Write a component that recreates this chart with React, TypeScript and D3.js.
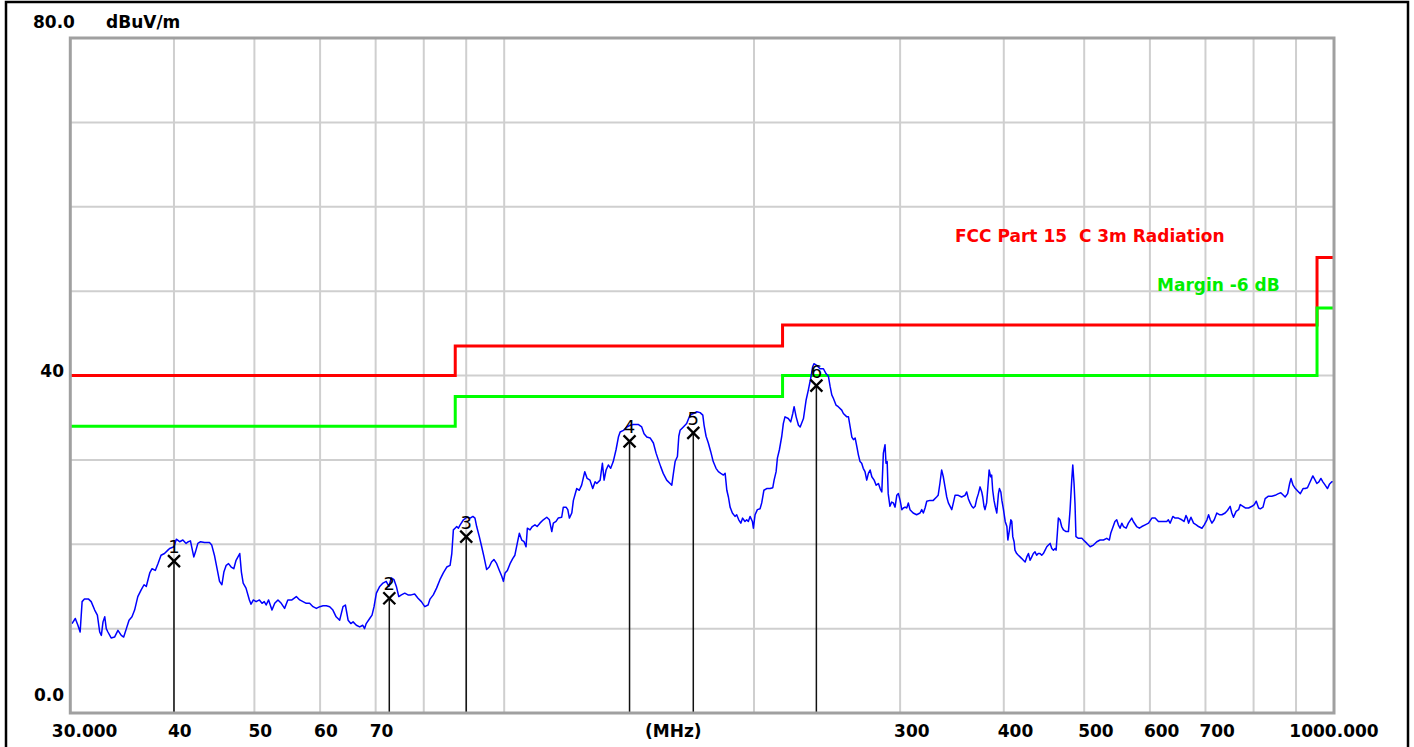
import React from 'react';
import * as d3 from 'd3';

// ---- Data ----
const traceFreq = [
  30.14, 30.42, 30.64, 30.83, 31.0, 31.2, 31.56, 31.79, 32.1, 32.34, 32.55, 32.7, 32.85, 33.01, 33.15, 33.3, 33.6, 33.92, 34.24, 34.56,
  34.79, 35.05, 35.31, 35.6, 35.86, 36.18, 36.52, 36.81, 37.04, 37.4, 37.64, 37.98, 38.26, 38.59, 38.96, 39.33, 39.52, 40.0, 40.26, 40.63,
  41.0, 41.37, 41.63, 41.87, 42.26, 42.46, 42.74, 43.06, 43.54, 44.14, 44.42, 44.75, 45.08, 45.39, 45.69, 45.94, 46.24, 46.54, 46.88, 47.22,
  47.52, 48.01, 48.23, 48.47, 48.85, 49.31, 49.54, 49.86, 50.24, 50.7, 51.07, 51.39, 51.66, 52.01, 52.5, 52.9, 53.38, 53.87, 54.37, 54.86,
  55.49, 56.17, 56.7, 57.22, 57.74, 58.28, 58.83, 59.38, 59.95, 60.5, 61.05, 61.62, 62.17, 62.73, 63.35, 63.94, 64.36, 64.85, 65.34, 65.75,
  66.35, 66.97, 67.55, 67.88, 68.19, 68.85, 69.3, 69.69, 70.14, 70.8, 71.44, 72.08, 72.62, 73.1, 73.66, 74.14, 74.64, 75.18, 75.89, 76.57,
  77.26, 78.0, 78.73, 79.47, 80.22, 80.96, 81.4, 82.14, 82.89, 83.67, 84.46, 85.27, 86.06, 86.47, 86.85, 87.26, 87.66, 88.07, 88.5, 89.32,
  90.18, 91.0, 91.68, 92.21, 92.65, 93.33, 93.95, 94.55, 95.25, 95.93, 96.55, 97.19, 97.94, 98.67, 99.33, 99.78, 100.25, 100.89, 101.64, 102.39,
  103.01, 103.69, 104.29, 104.99, 105.67, 106.25, 106.64, 107.43, 108.11, 108.91, 109.57, 110.42, 111.47, 112.54, 113.36, 114.12, 114.62, 115.47, 116.16, 117.3,
  117.83, 118.73, 119.3, 119.83, 120.63, 121.17, 122.3, 123.17, 123.97, 125.06, 125.89, 126.87, 127.85, 128.69, 129.3, 130.5, 131.33, 131.95, 132.68, 133.51,
  134.38, 135.34, 136.39, 137.29, 137.95, 139.23, 140.55, 141.83, 143.12, 145.04, 146.46, 147.42, 148.54, 149.92, 151.29, 152.42, 153.38, 154.38, 155.47, 156.98,
  158.46, 159.21, 159.93, 160.69, 161.72, 162.34, 162.92, 164.4, 165.91, 167.44, 169.02, 170.67, 172.23, 173.52, 174.14, 175.1, 176.2, 177.35, 178.61, 180.0,
  181.18, 182.4, 183.74, 184.61, 185.48, 186.3, 187.18, 188.36, 189.74, 190.62, 191.72, 192.82, 193.78, 195.06, 196.0, 196.88, 197.83, 199.11, 199.67, 200.61,
  201.89, 203.39, 204.34, 205.58, 207.18, 209.13, 210.71, 211.48, 212.66, 213.43, 214.61, 216.02, 216.96, 217.97, 219.95, 221.46, 222.73, 223.55, 224.82, 226.27,
  227.34, 229.43, 231.13, 232.58, 234.1, 235.32, 236.19, 238.02, 240.26, 242.5, 244.33, 245.88, 247.04, 248.19, 249.27, 251.1, 252.68, 255.14, 256.31, 258.77,
  259.94, 261.17, 262.4, 263.57, 264.8, 266.03, 267.2, 268.43, 269.66, 270.83, 272.15, 273.47, 274.72, 276.04, 277.36, 279.15, 280.71, 282.5, 283.82, 285.14,
  286.38, 287.71, 288.49, 289.41, 290.25, 291.66, 293.07, 294.42, 295.83, 297.25, 298.58, 300.0, 301.42, 302.75, 304.17, 305.59, 306.92, 308.34, 311.05, 314.07,
  317.03, 318.55, 319.98, 321.5, 323.02, 325.97, 328.92, 331.96, 333.4, 335.02, 336.64, 338.19, 339.81, 341.44, 342.97, 346.23, 347.76, 349.39, 352.55, 355.81,
  359.13, 360.87, 362.53, 364.27, 366.01, 367.65, 369.4, 371.15, 372.79, 374.53, 376.28, 377.31, 378.64, 379.67, 381.41, 383.0, 384.08, 385.64, 386.76, 387.88,
  389.32, 390.76, 392.32, 394.12, 395.2, 396.76, 397.89, 399.67, 401.56, 403.45, 404.56, 406.34, 407.9, 409.0, 410.1, 411.6, 412.6, 414.6, 416.5, 418.5,
  420.5, 422.4, 424.4, 426.4, 428.3, 430.3, 432.3, 434.2, 436.2, 438.2, 440.1, 442.3, 444.4, 446.4, 448.6, 450.7, 452.8, 454.9, 457.0, 459.1,
  461.2, 462.5, 464.1, 465.4, 467.5, 469.7, 472.0, 475.5, 478.6, 480.8, 483.0, 484.4, 486.1, 487.4, 488.7, 492.1, 496.8, 499.0, 503.8, 508.3,
  513.0, 517.8, 522.6, 527.4, 532.3, 536.1, 538.2, 540.9, 544.5, 547.2, 549.7, 552.3, 555.0, 557.5, 561.7, 565.2, 570.5, 573.0, 578.3, 582.7,
  586.7, 592.2, 597.7, 603.3, 608.8, 614.3, 622.6, 628.7, 631.5, 634.6, 639.4, 643.5, 649.4, 655.5, 659.6, 663.2, 665.5, 667.9, 672.4, 677.3,
  682.4, 686.7, 693.2, 697.7, 702.9, 706.1, 709.4, 712.7, 717.3, 722.4, 727.7, 732.6, 739.3, 744.0, 749.6, 753.1, 756.6, 762.1, 767.4, 771.0,
  776.8, 781.8, 789.0, 796.5, 801.6, 806.0, 811.2, 815.0, 821.2, 826.1, 833.7, 841.5, 849.3, 857.1, 862.8, 869.0, 873.2, 879.3, 884.2, 887.6,
  892.6, 898.3, 906.5, 910.8, 917.7, 923.1, 929.0, 936.0, 943.0, 949.0, 953.5, 958.9, 964.3, 969.6, 975.8, 982.0, 987.3, 993.9, 1000.0,
];

const traceLevel = [
  10.6, 11.2, 10.4, 9.6, 13.2, 13.5, 13.5, 13.2, 12.2, 11.6, 9.6, 9.2, 10.8, 11.4, 10.0, 9.6, 8.9, 9.0, 9.8, 9.2,
  9.0, 10.0, 11.0, 11.4, 12.2, 13.8, 14.6, 15.2, 15.0, 16.6, 17.1, 16.9, 17.7, 18.7, 18.9, 19.3, 19.5, 19.7, 20.6, 20.3,
  20.5, 20.1, 20.3, 20.4, 18.5, 19.1, 20.1, 20.3, 20.2, 20.2, 19.9, 18.7, 17.1, 15.6, 15.2, 16.7, 17.5, 17.7, 17.3, 17.1,
  18.1, 18.9, 16.7, 15.4, 14.8, 13.4, 12.9, 13.4, 13.2, 13.4, 13.0, 13.2, 12.8, 13.4, 12.2, 13.0, 13.4, 13.0, 12.4, 13.4,
  13.4, 13.8, 13.4, 13.2, 13.0, 13.0, 12.6, 12.4, 12.6, 12.7, 12.7, 12.6, 12.2, 11.4, 11.0, 12.6, 12.8, 11.0, 10.6, 10.8,
  10.4, 10.2, 10.4, 10.0, 10.6, 11.2, 11.6, 12.6, 14.2, 15.0, 15.4, 15.6, 15.0, 16.0, 15.8, 15.0, 13.8, 14.0, 14.2, 14.0,
  14.0, 14.1, 13.6, 13.2, 12.6, 12.8, 13.5, 14.0, 14.8, 15.8, 16.6, 17.3, 17.5, 18.9, 21.7, 21.9, 22.1, 21.9, 22.3, 22.9,
  23.2, 23.1, 23.3, 23.1, 22.1, 20.9, 19.7, 18.5, 17.0, 17.3, 17.9, 18.2, 17.7, 16.9, 16.2, 15.6, 16.6, 16.9, 17.7, 18.3,
  18.7, 20.1, 21.3, 20.5, 20.3, 19.7, 21.9, 21.7, 22.1, 22.3, 22.1, 22.5, 22.9, 23.2, 22.9, 21.5, 22.5, 22.7, 23.1, 23.2,
  24.4, 24.4, 24.1, 23.1, 23.7, 25.2, 26.6, 26.4, 27.0, 28.6, 27.8, 27.6, 26.6, 27.4, 27.2, 27.6, 29.6, 27.6, 28.8, 29.4,
  29.0, 29.8, 31.2, 32.7, 33.3, 33.5, 33.9, 34.1, 34.2, 34.2, 33.9, 33.1, 32.7, 32.6, 32.0, 30.8, 30.0, 29.2, 28.4, 27.6,
  27.2, 27.0, 28.4, 29.8, 30.4, 32.8, 33.5, 33.9, 34.3, 35.3, 35.5, 35.7, 35.6, 35.3, 34.1, 32.8, 32.0, 31.0, 29.8, 29.0,
  28.6, 28.4, 28.2, 28.4, 26.4, 25.6, 24.4, 23.7, 23.3, 23.5, 22.9, 22.5, 23.1, 22.7, 22.9, 22.7, 23.3, 22.7, 21.9, 23.5,
  24.1, 24.2, 24.9, 26.4, 26.6, 26.6, 26.7, 27.6, 28.6, 30.2, 31.2, 32.8, 34.3, 35.1, 34.9, 34.5, 35.5, 36.3, 35.1, 34.1,
  33.9, 34.9, 37.1, 38.3, 39.7, 41.0, 41.4, 41.2, 40.8, 40.8, 40.2, 39.9, 38.7, 37.7, 37.3, 36.5, 36.3, 35.9, 35.5, 35.1,
  35.1, 33.9, 32.7, 32.4, 32.6, 31.6, 30.6, 29.8, 29.6, 29.0, 28.6, 27.6, 28.4, 28.8, 28.0, 27.6, 27.0, 27.2, 26.6, 26.2,
  30.8, 31.8, 29.6, 29.8, 26.0, 24.5, 25.0, 24.9, 24.4, 25.8, 26.0, 25.2, 24.1, 24.3, 24.4, 24.3, 24.9, 24.1, 23.7, 23.5,
  23.7, 24.1, 23.7, 24.3, 25.1, 25.2, 25.2, 25.6, 25.8, 27.2, 28.8, 28.0, 26.8, 25.6, 24.9, 24.1, 24.9, 25.8, 25.8, 25.6,
  25.8, 26.2, 25.4, 24.9, 24.5, 24.3, 24.5, 25.4, 26.0, 26.8, 26.2, 25.6, 24.5, 24.1, 24.9, 27.2, 28.8, 28.0, 28.2, 26.4,
  25.2, 24.4, 23.7, 26.0, 26.6, 26.2, 25.2, 24.1, 22.7, 22.1, 20.5, 21.7, 22.9, 22.7, 20.9, 20.3, 19.3, 18.9, 18.7, 18.5,
  18.3, 18.1, 17.9, 18.5, 18.9, 18.1, 18.5, 18.9, 19.1, 18.7, 18.9, 18.9, 18.7, 18.9, 19.3, 19.7, 19.9, 20.1, 19.5, 19.3,
  19.5, 19.3, 21.3, 23.1, 22.9, 22.1, 21.7, 21.5, 21.5, 24.1, 27.6, 29.4, 27.2, 24.8, 20.9, 20.7, 20.7, 20.5, 20.1, 19.7,
  19.9, 20.3, 20.5, 20.5, 20.7, 20.5, 21.3, 21.9, 22.7, 22.9, 22.3, 21.9, 22.5, 22.1, 21.9, 22.5, 23.1, 22.7, 22.1, 21.9,
  22.1, 22.3, 22.5, 23.1, 23.1, 22.7, 22.7, 22.7, 22.9, 22.5, 23.3, 23.1, 23.1, 22.9, 22.7, 23.4, 23.1, 22.5, 23.2, 22.5,
  22.3, 22.1, 21.9, 22.3, 22.9, 23.5, 22.9, 22.5, 22.9, 23.7, 23.5, 23.5, 23.7, 24.0, 24.5, 23.7, 23.2, 23.9, 24.1, 24.7,
  24.5, 24.3, 24.3, 24.5, 24.7, 25.1, 24.3, 24.2, 24.4, 25.4, 25.7, 25.7, 25.8, 26.0, 26.1, 25.8, 25.6, 26.0, 27.2, 27.8,
  27.0, 26.6, 26.2, 26.0, 26.6, 26.6, 26.7, 27.4, 28.1, 27.6, 27.2, 27.4, 27.8, 27.4, 27.0, 26.6, 27.1, 27.4, 27.4,
];

// FCC Part 15 C 3m limit and -6 dB margin (step lines)
const limitFreq = [30, 87.3, 87.3, 216.5, 216.5, 954, 954, 1000];
const limitLevel = [40, 40, 43.5, 43.5, 46, 46, 54, 54];
const marginLevel = [34, 34, 37.5, 37.5, 40, 40, 48, 48];

// Peak markers
const markerNo = ['1', '2', '3', '4', '5', '6'];
const markerFreq = [40.0, 72.7, 90.0, 141.6, 169.0, 237.8];
const markerLevel = [18.0, 13.6, 20.9, 32.2, 33.2, 38.8];

// Axes
const xGridValues = [40, 50, 60, 70, 80, 90, 100, 200, 300, 400, 500, 600, 700, 800, 900];
const xTickValues = [40, 50, 60, 70, 300, 400, 500, 600, 700];
const xTickLabels = ['40', '50', '60', '70', '300', '400', '500', '600', '700'];
const xStartLabel = '30.000';
const xEndLabel = '1000.000';
const xUnitLabel = '(MHz)';
const yGridValues = [10, 20, 30, 40, 50, 60, 70];
const yTopLabel = '80.0';
const yMidLabel = '40';
const yBottomLabel = '0.0';
const yUnitLabel = 'dBuV/m';
const limitName = 'FCC Part 15  C 3m Radiation';
const marginName = 'Margin -6 dB';

// ---- Layout ----
const W = 1414;
const H = 747;
const PL = 70.3;
const PR = 1334;
const PT = 38;
const PB = 713;
const FONT = '"DejaVu Sans", Verdana, sans-serif';

export default function App() {
  const x = d3.scaleLog().domain([30, 1000]).range([PL, PR]);
  const y = d3.scaleLinear().domain([0, 80]).range([PB, PT]);

  const tracePts: [number, number][] = traceFreq.map((f, i) => [f, traceLevel[i]]);
  const line = d3
    .line<[number, number]>()
    .x((d) => x(d[0]))
    .y((d) => y(d[1]));

  const limitPts: [number, number][] = limitFreq.map((f, i) => [f, limitLevel[i]]);
  const marginPts: [number, number][] = limitFreq.map((f, i) => [f, marginLevel[i]]);

  const labelStyle = { fontFamily: FONT, fontWeight: 700, fontSize: 17, fill: '#000' } as const;

  return (
    <svg
      width={W}
      height={H}
      style={{ position: 'absolute', left: 0, top: 0, background: '#fff' }}
    >
      <rect x={0} y={0} width={W} height={H} fill="#fff" />
      <defs>
        <clipPath id="plotclip">
          <rect x={PL} y={PT} width={PR - PL} height={PB - PT} />
        </clipPath>
      </defs>

      {/* gridlines */}
      <g stroke="#cfcfcf" strokeWidth={2}>
        {xGridValues.map((v) => (
          <line key={'xg' + v} x1={x(v)} x2={x(v)} y1={PT} y2={PB} />
        ))}
        {yGridValues.map((v) => (
          <line key={'yg' + v} x1={PL} x2={PR} y1={y(v)} y2={y(v)} />
        ))}
      </g>

      <g clipPath="url(#plotclip)">
        {/* limit lines */}
        <path d={line(limitPts) || ''} fill="none" stroke="#ff0000" strokeWidth={3} />
        <path d={line(marginPts) || ''} fill="none" stroke="#00ff00" strokeWidth={3} />

        {/* trace */}
        <path d={line(tracePts) || ''} fill="none" stroke="#0000ff" strokeWidth={1.5} strokeLinejoin="round" />
      </g>

      {/* markers */}
      {markerFreq.map((f, i) => {
        const cx = x(f);
        const cy = y(markerLevel[i]);
        return (
          <g key={'m' + i}>
            <line x1={cx} x2={cx} y1={cy} y2={PB} stroke="#111" strokeWidth={1.5} />
            <line x1={cx - 6} x2={cx + 6} y1={cy - 6} y2={cy + 6} stroke="#000" strokeWidth={2.3} />
            <line x1={cx - 6} x2={cx + 6} y1={cy + 6} y2={cy - 6} stroke="#000" strokeWidth={2.3} />
            <text
              x={cx}
              y={cy - 8}
              textAnchor="middle"
              style={{ fontFamily: FONT, fontSize: 18, fill: '#000' }}
            >
              {markerNo[i]}
            </text>
          </g>
        );
      })}

      {/* plot frame */}
      <rect x={PL} y={PT} width={PR - PL} height={PB - PT} fill="none" stroke="#a0a0a0" strokeWidth={3} />

      {/* legend texts */}
      <text
        x={955}
        y={242}
        xmlSpace="preserve"
        style={{ fontFamily: FONT, fontWeight: 700, fontSize: 17, fill: '#ff0000', whiteSpace: 'pre' }}
      >
        {limitName}
      </text>
      <text x={1157} y={291} style={{ fontFamily: FONT, fontWeight: 700, fontSize: 17, fill: '#00ee00' }}>
        {marginName}
      </text>

      {/* y labels */}
      <text x={33} y={28} style={labelStyle}>{yTopLabel}</text>
      <text x={106} y={28} style={labelStyle}>{yUnitLabel}</text>
      <text x={64} y={y(40) + 1.5} textAnchor="end" style={labelStyle}>{yMidLabel}</text>
      <text x={64} y={PB - 12.5} textAnchor="end" style={labelStyle}>{yBottomLabel}</text>

      {/* x labels */}
      <text x={x(30) - 18.5} y={737} style={labelStyle}>{xStartLabel}</text>
      {xTickValues.map((v, i) => (
        <text key={'xt' + v} x={x(v) - 6} y={737} style={labelStyle}>
          {xTickLabels[i]}
        </text>
      ))}
      <text x={645} y={737} style={labelStyle}>{xUnitLabel}</text>
      <text x={x(1000)} y={737} textAnchor="middle" style={labelStyle}>{xEndLabel}</text>

      {/* outer black frame */}
      <rect x={6} y={2} width={1402} height={780} fill="none" stroke="#000" strokeWidth={2.5} />
    </svg>
  );
}
